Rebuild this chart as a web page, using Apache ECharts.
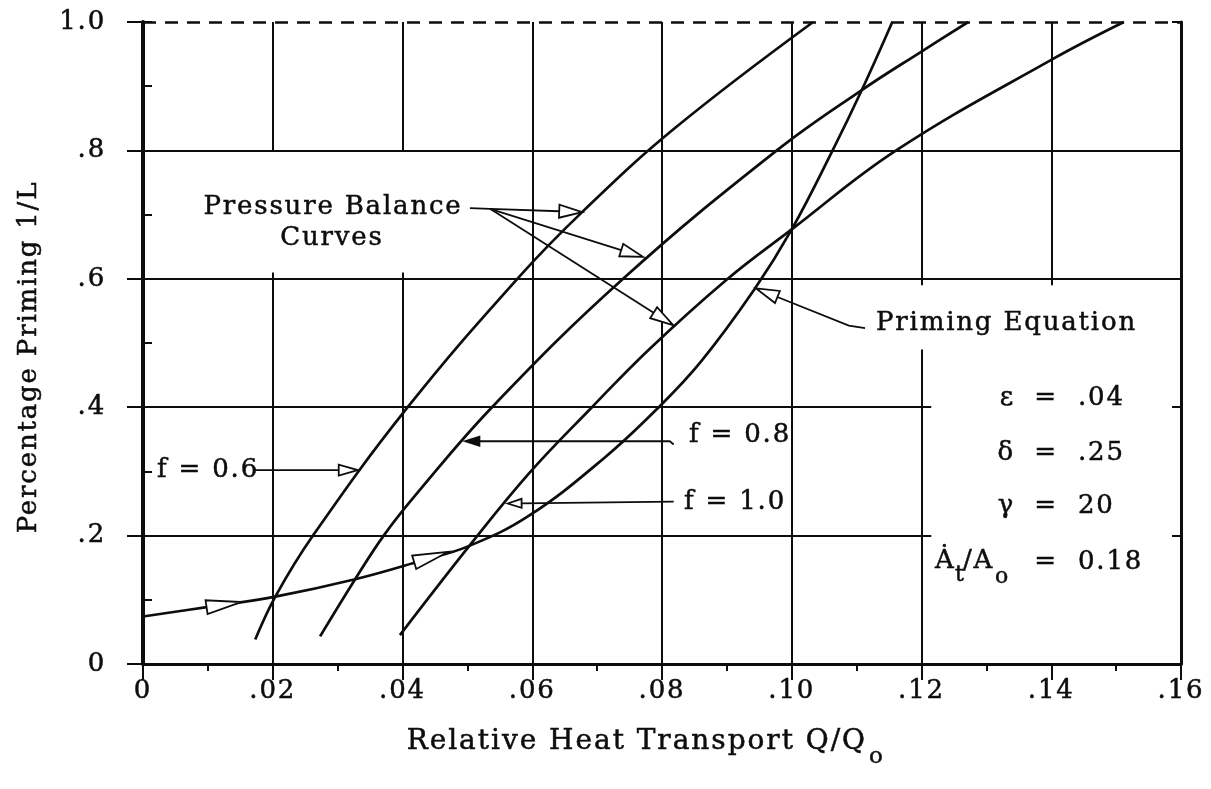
<!DOCTYPE html>
<html>
<head>
<meta charset="utf-8">
<script src="https://cdn.jsdelivr.net/npm/echarts@6/dist/echarts.min.js"></script>
<style>
html,body{margin:0;padding:0;background:#fff;}
#chart{width:1211px;height:789px;}
</style>
</head>
<body>
<div id="chart"></div>
<script>
// ---------- data ----------
const xTickLabels = ['0', '.02', '.04', '.06', '.08', '.10', '.12', '.14', '.16'];
const yTickLabels = ['0', '.2', '.4', '.6', '.8', '1.0'];

// Pressure balance curves
const curveF06 = [[0.0173,0.038],[0.0204,0.105],[0.0262,0.200],[0.0408,0.400],[0.0577,0.600],[0.0678,0.705],[0.0819,0.834],[0.1033,1.000]];
const curveF08 = [[0.0273,0.043],[0.0327,0.132],[0.0371,0.200],[0.0420,0.263],[0.0538,0.400],[0.0740,0.600],[0.0977,0.800],[0.1108,0.894],[0.1200,0.954],[0.1272,1.000]];
const curveF10 = [[0.0396,0.045],[0.0503,0.184],[0.0595,0.297],[0.0692,0.400],[0.0780,0.490],[0.0900,0.599],[0.1000,0.677],[0.1161,0.800],[0.1400,0.941],[0.1512,1.000]];
// Priming equation
const curvePriming = [[0.0000,0.074],[0.0101,0.089],[0.0204,0.105],[0.0327,0.132],[0.0426,0.160],[0.0503,0.184],[0.0595,0.231],[0.0711,0.321],[0.0795,0.400],[0.0860,0.471],[0.0942,0.583],[0.1000,0.677],[0.1063,0.800],[0.1108,0.894],[0.1155,1.000]];

// grid segments [x, yFrom, yTo] and [y, xFrom, xTo]
const vGrid = [[0.02,0,0.61],[0.02,0.8,1],[0.04,0,0.61],[0.04,0.8,1],[0.06,0,1],[0.08,0,1],[0.10,0,1],[0.12,0,0.49],[0.12,0.59,1],[0.14,0.59,1]];
const hGrid = [[0.2,0,0.1215],[0.4,0,0.1215],[0.6,0,0.16],[0.8,0,0.16]];
const topDashed = [[0,1],[0.16,1]];

// annotation leaders (data coords, last point = arrow tip)
const leaders = [
  [[0.0504,0.710],[0.0535,0.709],[0.0677,0.704]],
  [[0.0535,0.709],[0.0771,0.634]],
  [[0.0535,0.709],[0.0817,0.528]],
  [[0.1113,0.523],[0.1088,0.527],[0.0945,0.585]],
  [[0.0170,0.302],[0.0331,0.302]],
  [[0.0818,0.342],[0.0812,0.347],[0.0497,0.347]],
  [[0.0818,0.253],[0.0562,0.250]]
];
const leaderHeads = ['hollow', 'hollow', 'hollow', 'hollow', 'hollow', 'solid', 'hollow'];
// direction arrows drawn on the priming curve (tail, tip)
const curveArrows = [
  [[0.0098,0.0885],[0.0151,0.0965]],
  [[0.0418,0.1585],[0.0470,0.1745]]
];

// ---------- typewriter-like letter spacing ----------
(function () {
  const P = CanvasRenderingContext2D.prototype;
  if (!('letterSpacing' in P)) return;
  function wrap(name) {
    const orig = P[name];
    P[name] = function (t, x, y, m) {
      const prev = this.letterSpacing;
      const mm = /([\d.]+)px/.exec(this.font || '');
      const size = mm ? parseFloat(mm[1]) : 24;
      this.letterSpacing = (size * 0.07).toFixed(2) + 'px';
      const r = m === undefined ? orig.call(this, t, x, y) : orig.call(this, t, x, y, m);
      this.letterSpacing = prev;
      return r;
    };
  }
  wrap('fillText');
  wrap('strokeText');
})();

// ---------- chart ----------
const FONT = 'DejaVu Serif';
const INK = '#0d0d0d';
const chart = echarts.init(document.getElementById('chart'));

function headShape(tip, prev, L, W) {
  const dx = tip[0]-prev[0], dy = tip[1]-prev[1];
  const len = Math.hypot(dx, dy) || 1;
  const ux = dx/len, uy = dy/len;
  const bx = tip[0]-ux*L, by = tip[1]-uy*L;
  return {base:[bx,by], pts:[tip,[bx-uy*W,by+ux*W],[bx+uy*W,by-ux*W]]};
}

const curveStyle = {color: INK, width: 2.7};
const labelCommon = {color: INK, fontFamily: FONT, fontSize: 26, textBorderColor: INK, textBorderWidth: 0.5};
const option = {
  animation: false,
  backgroundColor: '#fff',
  grid: {left: 143, right: 30, top: 22, bottom: 125, containLabel: false},
  xAxis: [{
    type: 'value', min: 0, max: 0.16, interval: 0.02,
    axisLine: {show: true, onZero: false, lineStyle: {color: INK, width: 3}},
    axisTick: {show: true, length: 16, lineStyle: {color: INK, width: 2}},
    minorTick: {show: true, splitNumber: 2, length: 7, lineStyle: {color: INK, width: 2}},
    splitLine: {show: false},
    axisLabel: Object.assign({margin: 14, formatter: v => xTickLabels[Math.round(v/0.02)]}, labelCommon)
  }],
  yAxis: [{
    type: 'value', min: 0, max: 1, interval: 0.2, position: 'left',
    axisLine: {show: true, onZero: false, lineStyle: {color: INK, width: 4}},
    axisTick: {show: true, length: 16, lineStyle: {color: INK, width: 2}},
    splitLine: {show: false},
    axisLabel: Object.assign({margin: 37, formatter: v => yTickLabels[Math.round(v/0.2)]}, labelCommon)
  }, {
    type: 'value', min: 0, max: 1, interval: 0.1, position: 'left',
    axisLine: {show: false},
    axisTick: {show: true, inside: true, length: 9, lineStyle: {color: INK, width: 2}},
    axisLabel: {show: false}, splitLine: {show: false}
  }, {
    type: 'value', min: 0, max: 1, interval: 0.2, position: 'right',
    axisLine: {show: true, onZero: false, lineStyle: {color: INK, width: 3}},
    axisTick: {show: true, inside: true, length: 9, lineStyle: {color: INK, width: 2}},
    axisLabel: {show: false}, splitLine: {show: false}
  }],
  series: [
    {
      type: 'lines', coordinateSystem: 'cartesian2d', silent: true, z: 1,
      lineStyle: {color: INK, width: 2, opacity: 1},
      data: vGrid.map(g => ({coords: [[g[0], g[1]], [g[0], g[2]]]}))
        .concat(hGrid.map(g => ({coords: [[g[1], g[0]], [g[2], g[0]]]})))
    },
    {
      type: 'lines', coordinateSystem: 'cartesian2d', silent: true, z: 1,
      lineStyle: {color: INK, width: 2.5, type: [13, 9], opacity: 1},
      data: [{coords: topDashed}]
    },
    {name: 'f = 0.6', type: 'line', data: curveF06, smooth: 0.4, showSymbol: false, z: 3, lineStyle: curveStyle},
    {name: 'f = 0.8', type: 'line', data: curveF08, smooth: 0.4, showSymbol: false, z: 3, lineStyle: curveStyle},
    {name: 'f = 1.0', type: 'line', data: curveF10, smooth: 0.4, showSymbol: false, z: 3, lineStyle: curveStyle},
    {name: 'Priming Equation', type: 'line', data: curvePriming, smooth: 0.4, showSymbol: false, z: 3, lineStyle: curveStyle},
    {
      type: 'custom', z: 5, silent: true,
      data: leaders.map((l, i) => [l[l.length-1][0], l[l.length-1][1], i]),
      encode: {x: 0, y: 1},
      renderItem: function (params, api) {
        const idx = api.value(2);
        const l = leaders[idx];
        const pts = l.map(p => api.coord(p));
        const n = pts.length;
        const big = idx <= 3;
        const L = big ? 23 : (idx === 4 ? 19 : 14);
        const W = big ? 6.5 : (idx === 4 ? 5.5 : 4.5);
        const h = headShape(pts[n-1], pts[n-2], L, W);
        const linePts = pts.slice(0, n-1).concat([h.base]);
        return {type: 'group', children: [
          {type: 'polyline', shape: {points: linePts}, style: {stroke: INK, lineWidth: 1.8, fill: null}},
          {type: 'polygon', shape: {points: h.pts}, style: {fill: leaderHeads[idx] === 'solid' ? INK : '#fff', stroke: INK, lineWidth: 1.8}}
        ]};
      }
    },
    {
      type: 'custom', z: 6, silent: true,
      data: curveArrows.map((a, i) => [a[1][0], a[1][1], i]),
      encode: {x: 0, y: 1},
      renderItem: function (params, api) {
        const a = curveArrows[api.value(2)];
        const tail = api.coord(a[0]), tip = api.coord(a[1]);
        const h = headShape(tip, tail, Math.hypot(tip[0]-tail[0], tip[1]-tail[1]), 7);
        return {type: 'polygon', shape: {points: h.pts}, style: {fill: '#fff', stroke: INK, lineWidth: 1.8}};
      }
    }
  ]
};

// text annotations (pixel placement)
const txt = (text, x, y, align, size, extra) => Object.assign({
  type: 'text', x: x, y: y, z: 20, silent: true,
  style: {text: text, fill: INK, stroke: INK, lineWidth: 0.5, font: (size || 26) + 'px "' + FONT + '"', align: align || 'left', verticalAlign: 'middle'}
}, extra || {});
option.graphic = [
  // axis titles
  txt('Relative Heat Transport Q/Q', 867, 742, 'right', 28),
  txt('o', 869, 757, 'left', 23),
  txt('Percentage Priming 1/L', 29, 357, 'center', 26, {rotation: Math.PI / 2}),
  // annotations
  txt('Pressure Balance', 333, 207, 'center'),
  txt('Curves', 332, 238, 'center'),
  txt('Priming Equation', 876, 323, 'left'),
  txt('f = 0.6', 157, 470, 'left'),
  txt('f = 0.8', 689, 435, 'left'),
  txt('f = 1.0', 684, 502, 'left'),
  // parameter block
  txt('\u03B5', 1015, 398, 'right'),
  txt('=', 1046, 398, 'center'),
  txt('.04', 1078, 398, 'left'),
  txt('\u03B4', 1015, 453, 'right'),
  txt('=', 1046, 453, 'center'),
  txt('.25', 1078, 453, 'left'),
  txt('\u03B3', 1015, 506, 'right'),
  txt('=', 1046, 506, 'center'),
  txt('20', 1078, 506, 'left'),
  txt('\u0226', 935, 561, 'left'),
  txt('t', 955, 575, 'left', 22),
  txt('/A', 963, 561, 'left'),
  txt('o', 995, 577, 'left', 22),
  txt('=', 1046, 562, 'center'),
  txt('0.18', 1078, 562, 'left')
];

chart.setOption(option);
</script>
</body>
</html>
